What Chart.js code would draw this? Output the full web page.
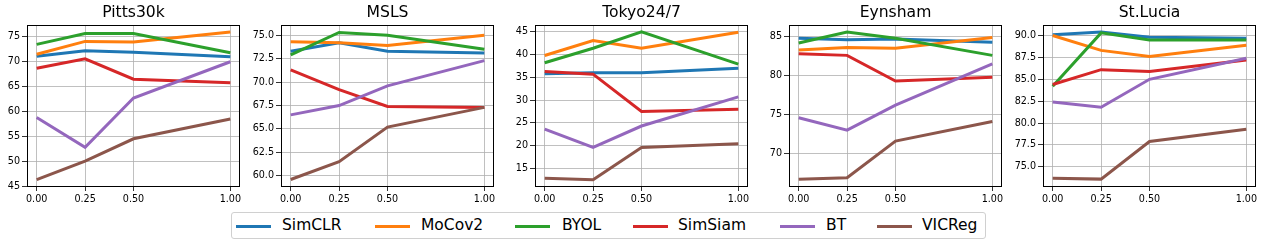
<!DOCTYPE html>
<html>
<head>
<meta charset="utf-8">
<script src="https://cdn.jsdelivr.net/npm/chart.js@4.4.1/dist/chart.umd.min.js"></script>
<style>
  body { margin: 0; background: #fff; width: 1263px; height: 247px; position: relative; overflow: hidden; font-family: "DejaVu Sans", sans-serif; }
  canvas { position: absolute; top: 0; }
  #legend { position: absolute; left: 231px; top: 212px; width: 755px; height: 27px; border: 1px solid #d0d0d0; border-radius: 3px; box-sizing: border-box; }
  .sw { position: absolute; top: 12px; width: 35px; height: 3px; }
  .lb { position: absolute; top: 3px; font-size: 15.5px; color: #000; line-height: 18px; }
</style>
</head>
<body>
<canvas id="c0" width="250" height="205"></canvas>
<canvas id="c1" width="250" height="205"></canvas>
<canvas id="c2" width="250" height="205"></canvas>
<canvas id="c3" width="250" height="205"></canvas>
<canvas id="c4" width="250" height="205"></canvas>
<div id="legend"></div>
<script>
// x positions (fraction) shared by every panel
const xValues = [0, 0.25, 0.5, 1];
const xTicks = [0, 0.25, 0.5, 1];

const methods = ['SimCLR', 'MoCov2', 'BYOL', 'SimSiam', 'BT', 'VICReg'];
const colors = ['#1f77b4', '#ff7f0e', '#2ca02c', '#d62728', '#9467bd', '#8c564b'];

// one row per method, same order as `methods`
const pitts30k = [
  [71.1, 72.2, 71.9, 71.0],
  [71.5, 74.1, 74.0, 76.0],
  [73.5, 75.7, 75.7, 71.8],
  [68.7, 70.6, 66.5, 65.8],
  [58.8, 52.8, 62.7, 70.0],
  [46.3, 50.0, 54.5, 58.5]
];
const msls = [
  [73.3, 74.2, 73.3, 73.1],
  [74.3, 74.2, 73.9, 75.0],
  [72.9, 75.3, 75.0, 73.5],
  [71.3, 69.2, 67.4, 67.3],
  [66.5, 67.5, 69.6, 72.3],
  [59.6, 61.5, 65.2, 67.3]
];
const tokyo = [
  [35.8, 36.0, 36.0, 37.0],
  [39.8, 43.1, 41.4, 44.9],
  [38.2, 41.4, 45.0, 37.9],
  [36.3, 35.7, 27.5, 28.0],
  [23.6, 19.6, 24.3, 30.7],
  [12.8, 12.5, 19.6, 20.4]
];
const eynsham = [
  [84.8, 84.6, 84.7, 84.3],
  [83.3, 83.6, 83.5, 84.9],
  [84.2, 85.6, 84.8, 82.6],
  [82.8, 82.6, 79.3, 79.8],
  [74.6, 73.0, 76.2, 81.5],
  [66.7, 66.9, 71.6, 74.1]
];
const stLucia = [
  [90.1, 90.4, 89.8, 89.7],
  [90.0, 88.3, 87.6, 88.9],
  [84.2, 90.3, 89.5, 89.5],
  [84.4, 86.1, 85.9, 87.2],
  [82.4, 81.8, 85.0, 87.4],
  [73.7, 73.6, 77.9, 79.3]
];

const titles = ['Pitts30k', 'MSLS', 'Tokyo24/7', 'Eynsham', 'St.Lucia'];
const allData = [pitts30k, msls, tokyo, eynsham, stLucia];

const yTicks = [
  [45, 50, 55, 60, 65, 70, 75],
  [60, 62.5, 65, 67.5, 70, 72.5, 75],
  [15, 20, 25, 30, 35, 40, 45],
  [70, 75, 80, 85],
  [75, 77.5, 80, 82.5, 85, 87.5, 90]
];
const yDecimals = [0, 1, 0, 0, 1];
const yRanges = [[44.8, 77.4], [58.8, 76.1], [10.9, 46.5], [65.7, 86.5], [72.7, 91.2]];

const plotLefts = [27, 281, 535, 789, 1043];
const axisW = 32;

const framePlugin = {
  id: 'frame',
  afterDraw(chart, args, opts) {
    const { ctx, chartArea: a } = chart;
    ctx.save();
    ctx.strokeStyle = '#000';
    ctx.lineWidth = 1;
    ctx.strokeRect(a.left + 0.5, a.top + 0.5, a.right - a.left - 1, a.bottom - a.top - 1);
    ctx.fillStyle = '#000';
    ctx.font = '15.6px "DejaVu Sans"';
    ctx.textAlign = 'center';
    ctx.textBaseline = 'middle';
    ctx.fillText(opts.text, (a.left + a.right) / 2, 13);
    ctx.restore();
  }
};

allData.forEach((rows, p) => {
  const canvas = document.getElementById('c' + p);
  canvas.style.left = (plotLefts[p] - axisW) + 'px';
  new Chart(canvas, {
    type: 'line',
    data: {
      datasets: rows.map((vals, i) => ({
        label: methods[i],
        data: xValues.map((x, k) => ({ x: x, y: vals[k] })),
        borderColor: colors[i],
        backgroundColor: colors[i],
        borderWidth: 3,
        pointRadius: 0,
        tension: 0,
        order: methods.length - 1 - i
      }))
    },
    options: {
      responsive: false,
      animation: false,
      devicePixelRatio: 1,
      layout: { padding: { top: 25, right: 250 - axisW - 213, left: 0, bottom: 0 } },
      plugins: {
        legend: { display: false },
        tooltip: { enabled: false },
        frame: { text: titles[p] }
      },
      scales: {
        x: {
          type: 'linear',
          min: -0.05,
          max: 1.05,
          afterBuildTicks: axis => { axis.ticks = xTicks.map(v => ({ value: v })); },
          afterFit: scale => { scale.height = 18; },
          border: { display: false },
          grid: { color: '#b0b0b0', lineWidth: 0.8, tickLength: 4, tickColor: '#000' },
          ticks: {
            color: '#000',
            font: { family: 'DejaVu Sans', size: 9.6 },
            padding: 3,
            maxRotation: 0,
            callback: v => Number(v).toFixed(2)
          }
        },
        y: {
          min: yRanges[p][0],
          max: yRanges[p][1],
          afterBuildTicks: axis => { axis.ticks = yTicks[p].map(v => ({ value: v })); },
          afterFit: scale => { scale.width = axisW; },
          border: { display: false },
          grid: { color: '#b0b0b0', lineWidth: 0.8, tickLength: 5, tickColor: '#000' },
          ticks: {
            color: '#000',
            font: { family: 'DejaVu Sans', size: 9.6 },
            padding: 2,
            callback: v => Number(v).toFixed(yDecimals[p])
          }
        }
      }
    },
    plugins: [framePlugin]
  });
});

// legend entries
const swatchX = [236, 375, 515, 633, 780, 877];
const labelX = [282, 421, 562, 678, 826, 922];
const legend = document.getElementById('legend');
methods.forEach((m, i) => {
  const sw = document.createElement('div');
  sw.className = 'sw';
  sw.style.left = (swatchX[i] - 232) + 'px';
  sw.style.background = colors[i];
  legend.appendChild(sw);
  const lb = document.createElement('div');
  lb.className = 'lb';
  lb.style.left = (labelX[i] - 232) + 'px';
  lb.textContent = m;
  legend.appendChild(lb);
});
</script>
</body>
</html>
